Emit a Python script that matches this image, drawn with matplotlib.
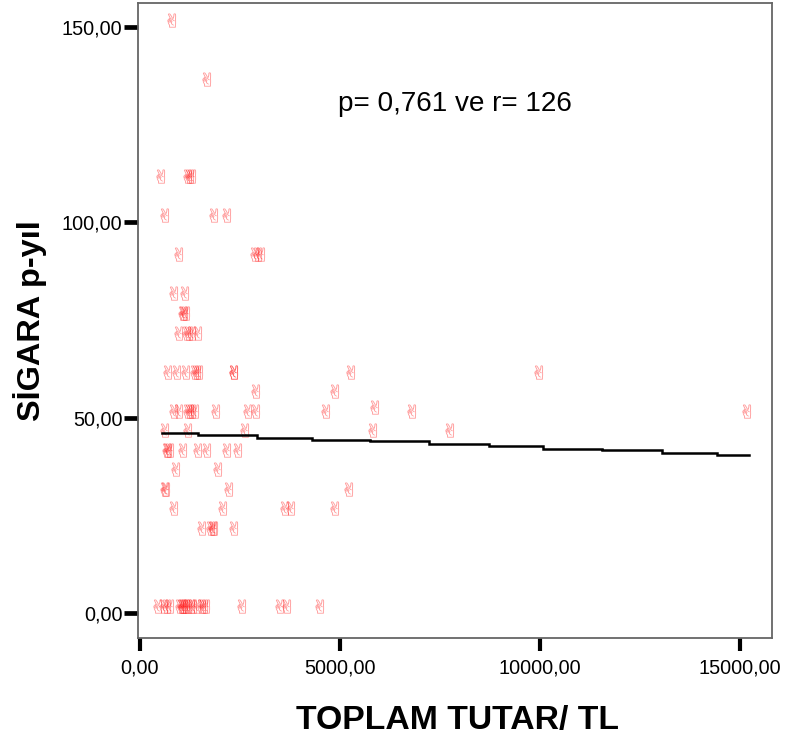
import matplotlib
matplotlib.use("Agg")
import matplotlib.pyplot as plt
import numpy as np
from matplotlib.textpath import TextPath
from matplotlib.font_manager import FontProperties
from matplotlib.path import Path
from matplotlib.markers import MarkerStyle

# Scatter values: one list per smoking level
rows = {
    150: [888],
    135: [1771],
    110: [612, 1296, 1346, 1396],
    100: [712, 1929, 2262],
    90: [1054, 2962, 3029, 3112],
    80: [929, 1221],
    75: [1154, 1196, 1237],
    70: [1054, 1262, 1321, 1379, 1529],
    60: [780, 1004, 1230, 1462, 1512, 1562, 2430, 2445, 5345, 10060],
    55: [2987, 4962],
    50: [929, 1054, 1296, 1346, 1396, 1462, 1987, 2796, 2979, 4737, 6887, 15237],
    51: [5946],
    45: [721, 1279, 2712, 5904, 7837],
    40: [762, 796, 846, 1154, 1546, 1771, 2262, 2537],
    35: [996, 2046],
    30: [721, 737, 2321, 5296],
    25: [929, 2154, 3696, 3854, 4962],
    20: [1646, 1862, 1912, 1946, 2429],
    0: [546, 679, 762, 846, 1096, 1129, 1162, 1196, 1237, 1296, 1362, 1412,
        1512, 1629, 1679, 1737, 2646, 3587, 3746, 4571],
}
# Fit line, a staircase
line_x = [562, 1460, 2933, 4306, 5754, 7228, 8725, 10075, 11548, 13046, 14420, 15218]
line_y = [46.1, 45.5, 44.9, 44.4, 43.9, 43.3, 42.7, 42.1, 41.6, 41.0, 40.5, 40.5]
x_ticks = [0, 5000, 10000, 15000]
x_labels = ["0,00", "5000,00", "10000,00", "15000,00"]
y_ticks = [0, 50, 100, 150]
y_labels = ["0,00", "50,00", "100,00", "150,00"]

W, H = 787, 740
plt.rcParams["font.family"] = ["Liberation Sans", "DejaVu Sans"]
fig = plt.figure(figsize=(W / 100, H / 100), dpi=100, facecolor="white")
L, R, T, B = 138.3, 772.3, 3.3, 638.3
ax = fig.add_axes([L / W, 1 - B / H, (R - L) / W, (B - T) / H])
ax.set_xlim(-30, 15800)
ax.set_ylim(-6.5, 156.1)

# Hand glyph marker: anchored at its lower right corner
tp = TextPath((0, 0), "\u270c", size=10, prop=FontProperties(family="DejaVu Sans"))
e = tp.get_extents()
v = tp.vertices.copy()
v[:, 0] = (v[:, 0] - e.x0) / e.width * 8.5 - 8.0
v[:, 1] = (v[:, 1] - e.y0) / e.height * 14
hand = Path(v, tp.codes)

xs = [x for level, vals in rows.items() for x in vals]
ys = [level for level, vals in rows.items() for _ in vals]
ax.scatter(xs, ys, marker=MarkerStyle(hand), s=(2 * np.abs(v).max() * 0.72) ** 2,
           facecolor="#ff0000", edgecolor="#ff0000", alpha=0.34,
           linewidths=0.15, zorder=2, clip_on=False)

ax.plot(line_x, line_y, color="black", lw=1.8, drawstyle="steps-post",
        solid_joinstyle="miter", zorder=3)

for s in ax.spines.values():
    s.set_color("#666666")
    s.set_linewidth(1.3)
ax.set_xticks(x_ticks, x_labels)
ax.set_yticks(y_ticks, y_labels)
ax.tick_params(axis="x", length=9.5, width=3, color="black", labelsize=14.3, pad=5)
ax.tick_params(axis="y", length=10, width=3.4, color="black", labelsize=14.3, pad=1.5)

ax.set_xlabel("TOPLAM TUTAR/ TL", fontsize=24.3, fontweight="bold")
ax.xaxis.set_label_coords((458 - L) / (R - L), 1 - (721 - T) / (B - T), transform=ax.transAxes)
ax.xaxis.label.set_va("center")
ax.set_ylabel("SİGARA p-yıl", fontsize=23.4, fontweight="bold")
ax.yaxis.set_label_coords((30 - L) / (R - L), 1 - (321 - T) / (B - T), transform=ax.transAxes)
ax.yaxis.label.set_va("center")

ax.text((454.5 - L) / (R - L), 1 - (104 - T) / (B - T), "p= 0,761 ve r= 126",
        transform=ax.transAxes, ha="center", va="center", fontsize=20.1, color="black")

fig.savefig("out.png", dpi=100, facecolor="white")
